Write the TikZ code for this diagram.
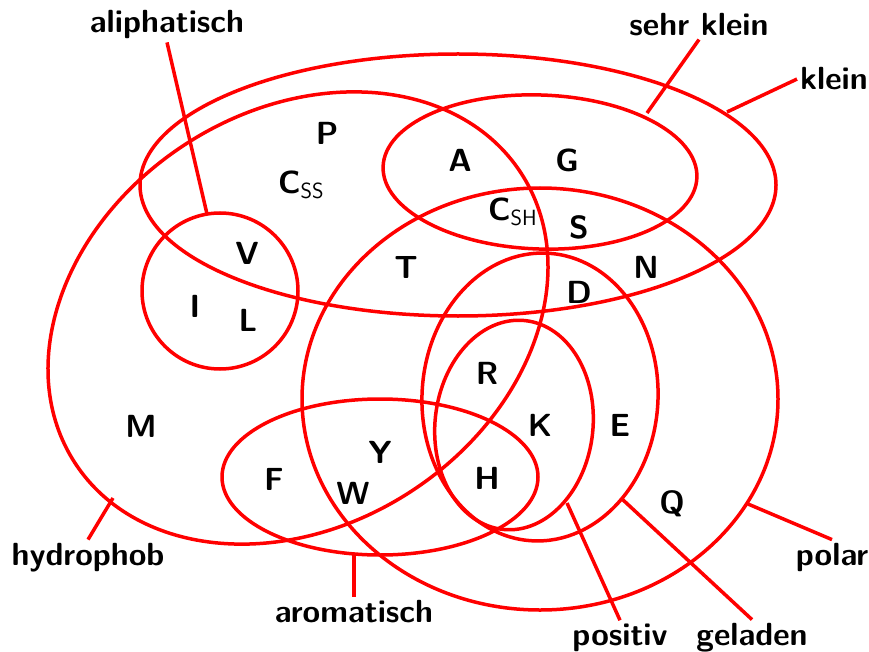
\documentclass[tikz,border=0pt]{standalone}
\begin{document}
\begin{tikzpicture}[x=1pt,y=-1pt,
  setline/.style={draw=red,line width=3.5pt},
  lbl/.style={font=\fontsize{32}{38}\selectfont\sffamily\bfseries,inner sep=3pt},
  aa/.style={font=\fontsize{32}{38}\selectfont\sffamily\bfseries,inner sep=0pt},
  lead/.style={draw=red,line width=3.5pt}]
\useasboundingbox (0,0) rectangle (869,652);
% sets
\draw[setline] (458,185) ellipse [x radius=318, y radius=131]; % klein
\draw[setline, rotate around={33:(298,318)}] (298,318) ellipse [x radius=266, y radius=207]; % hydrophob
\draw[setline] (220,291) circle [radius=78]; % aliphatisch
\draw[setline, rotate around={-2:(540,172)}] (540,172) ellipse [x radius=157, y radius=77]; % sehr klein
\draw[setline] (540,399) ellipse [x radius=238, y radius=211]; % polar
\draw[setline, rotate around={-3:(540,397)}] (540,397) ellipse [x radius=118, y radius=144]; % geladen
\draw[setline, rotate around={-6:(514,425)}] (514,425) ellipse [x radius=79, y radius=105]; % positiv
\draw[setline] (380,477) ellipse [x radius=158, y radius=78]; % aromatisch
% attachment points
\coordinate (cal) at (207,214);
\coordinate (csk) at (647,113);
\coordinate (ckl) at (727,112);
\coordinate (chy) at (113,498);
\coordinate (car) at (354,555);
\coordinate (cpo) at (567,503);
\coordinate (cge) at (622,499);
\coordinate (cpl) at (748,504);
% amino acids
\node[aa] (P) at (327,133) {P};
\node[aa, anchor=base west] (Css) at (278,194) {C\raisebox{-5pt}{\fontsize{22}{22}\selectfont\mdseries SS}};
\node[aa] (V) at (247,253) {V};
\node[aa] (T) at (406,267) {T};
\node[aa] (I) at (195,306) {I};
\node[aa] (L) at (248,320) {L};
\node[aa] (A) at (460,160) {A};
\node[aa] (G) at (567,160) {G};
\node[aa, anchor=base west] (Csh) at (488,221) {C\raisebox{-5pt}{\fontsize{22}{22}\selectfont\mdseries SH}};
\node[aa] (S) at (579,227) {S};
\node[aa] (N) at (646,267) {N};
\node[aa] (D) at (579,292) {D};
\node[aa] (M) at (141,426) {M};
\node[aa] (F) at (274,479) {F};
\node[aa] (Y) at (380,452) {Y};
\node[aa] (W) at (353,493) {W};
\node[aa] (R) at (487,373) {R};
\node[aa] (K) at (540,425) {K};
\node[aa] (H) at (487,478) {H};
\node[aa] (E) at (620,425) {E};
\node[aa, anchor=base] (Q) at (672,513) {Q};
% labels
\node[lbl, anchor=base] (lal) at (167,33) {aliphatisch};
\node[lbl, anchor=base] (lsk) at (699,36) {sehr klein};
\node[lbl, anchor=base west] (lkl) at (797,90) {klein};
\node[lbl, anchor=base] (lhy) at (88,565) {hydrophob};
\node[lbl, anchor=base] (lar) at (354,622) {aromatisch};
\node[lbl, anchor=base] (lpo) at (620,645) {positiv};
\node[lbl, anchor=base] (lge) at (752,645) {geladen};
\node[lbl, anchor=base] (lpl) at (832,565) {polar};
% leaders
\draw[lead] (lal.south) -- (cal);
\draw[lead] (lsk.south) -- (csk);
\draw[lead] (lkl.west) -- (ckl);
\draw[lead] (lhy.north) -- (chy);
\draw[lead] (lar.north) -- (car);
\draw[lead] (lpo.north) -- (cpo);
\draw[lead] (lge.north) -- (cge);
\draw[lead] (lpl.north) -- (cpl);
\end{tikzpicture}
\end{document}
